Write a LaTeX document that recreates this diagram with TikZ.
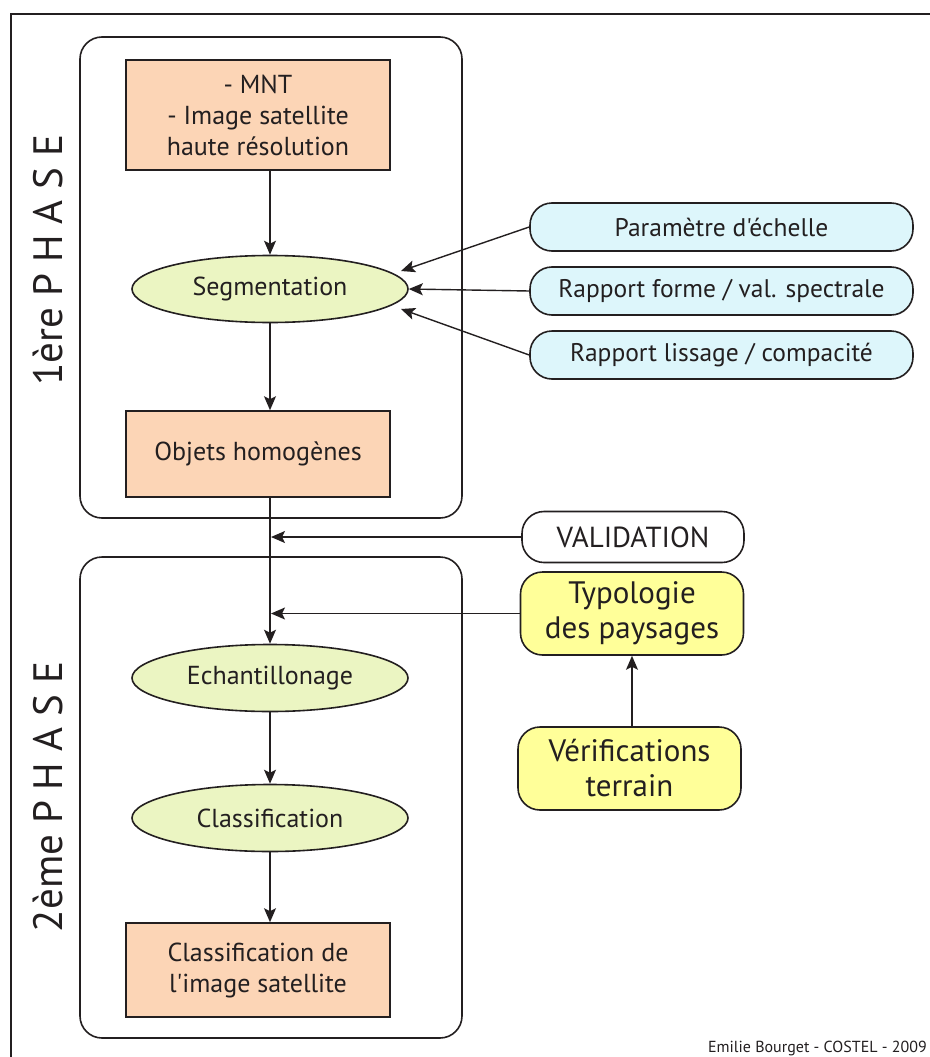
\documentclass[tikz,border=0pt]{standalone}
\usepackage{fontspec}
\setmainfont{PT Sans}[Ligatures=TeXOff]
\usetikzlibrary{shapes.geometric,arrows.meta}
\definecolor{peach}{HTML}{FCD5B6}
\definecolor{lgreen}{HTML}{EBF5C2}
\definecolor{lcyan}{HTML}{DDF6FB}
\definecolor{lyellow}{HTML}{FFFF99}
\definecolor{ink}{HTML}{231F20}
\tikzset{
  every node/.style={text=ink, font=\fontsize{26}{31}\selectfont, align=center, inner sep=0pt},
  frame/.style={draw=ink, line width=1.6pt, rounded corners=22pt, fill=white},
  pbox/.style={draw=ink, line width=1.6pt, fill=peach, minimum width=264pt},
  gell/.style={ellipse, draw=ink, line width=1.6pt, fill=lgreen, minimum width=276pt, minimum height=67pt},
  cbox/.style={draw=ink, line width=1.6pt, fill=lcyan, rounded corners=22pt, minimum width=383pt, minimum height=48pt, font=\fontsize{25.5}{30}\selectfont},
  ybox/.style={draw=ink, line width=1.6pt, fill=lyellow, rounded corners=22pt, minimum width=223pt, minimum height=83pt, font=\fontsize{31}{35}\selectfont},
  arr/.style={draw=ink, line width=1.4pt, -{Stealth[length=14pt,width=12pt,inset=3pt]}},
  phase/.style={rotate=90, font=\fontsize{41}{44}\selectfont},
}
\begin{document}
\begin{tikzpicture}[x=1pt,y=-1pt]
\useasboundingbox (0,0) rectangle (929,1057);
% outer frame
\coordinate (oa) at (11,1070);
\coordinate (ob) at (11,14);
\coordinate (oc) at (940,14);
\draw[ink, line width=2pt] (oa) -- (ob) -- (oc);
% phase frames
\node[frame, minimum width=382pt, minimum height=481pt] (f1) at (271,277.5) {};
\node[frame, minimum width=382pt, minimum height=481pt] (f2) at (271,797.5) {};
\node[phase] (p1) at (48,260) {1ère P H A S E};
\node[phase] (p2) at (48,797) {2ème P H A S E};
% phase 1
\node[pbox, minimum height=110pt] (mnt) at (258,115) {- MNT\\- Image satellite\\haute résolution};
\node[gell] (seg) at (270,289) {Segmentation};
\node[pbox, minimum height=86pt] (obj) at (258,454) {Objets homogènes};
% parameters
\node[cbox] (c1) at (721.5,227) {Paramètre d'échelle};
\node[cbox] (c2) at (721.5,291) {Rapport forme / val. spectrale};
\node[cbox] (c3) at (721.5,355) {Rapport lissage / compacité};
% right side
\node[draw=ink, line width=1.6pt, fill=white, rounded corners=22pt, minimum width=222pt, minimum height=51pt, font=\fontsize{29}{32}\selectfont] (val) at (633,537) {VALIDATION};
\node[ybox] (typo) at (632,613.5) {Typologie\\des paysages};
\node[ybox] (verif) at (629.5,768.5) {Vérifications\\terrain};
% phase 2
\node[gell] (ech) at (270,678) {Echantillonage};
\node[gell] (cla) at (270,818) {Classification};
\node[pbox, minimum height=94pt] (res) at (258,970) {Classification de\\l'image satellite};
% credit
\node[anchor=base east, font=\fontsize{16}{18}\selectfont] (cr) at (927,1052) {Emilie Bourget - COSTEL - 2009};
% connectors
\coordinate (s1) at (401,271);
\coordinate (s3) at (401,309);
\draw[arr] (mnt.south -| seg.north) -- (seg.north);
\draw[arr] (seg.south) -- (obj.north -| seg.south);
\draw[arr] (c1.west) -- (s1);
\draw[arr] (c2.west) -- (seg.east);
\draw[arr] (c3.west) -- (s3);
\coordinate (top2) at (obj.south -| ech.north);
\draw[arr] (top2) -- (ech.north);
\coordinate (vj) at (val.west -| ech.north);
\coordinate (tj) at (typo.west -| ech.north);
\draw[arr, shorten >=1pt] (val.west) -- (vj);
\draw[arr, shorten >=1pt] (typo.west) -- (tj);
\draw[arr] (verif.north -| typo.south) -- (typo.south);
\draw[arr] (ech.south) -- (cla.north);
\draw[arr] (cla.south) -- (res.north -| cla.south);
\end{tikzpicture}
\end{document}
